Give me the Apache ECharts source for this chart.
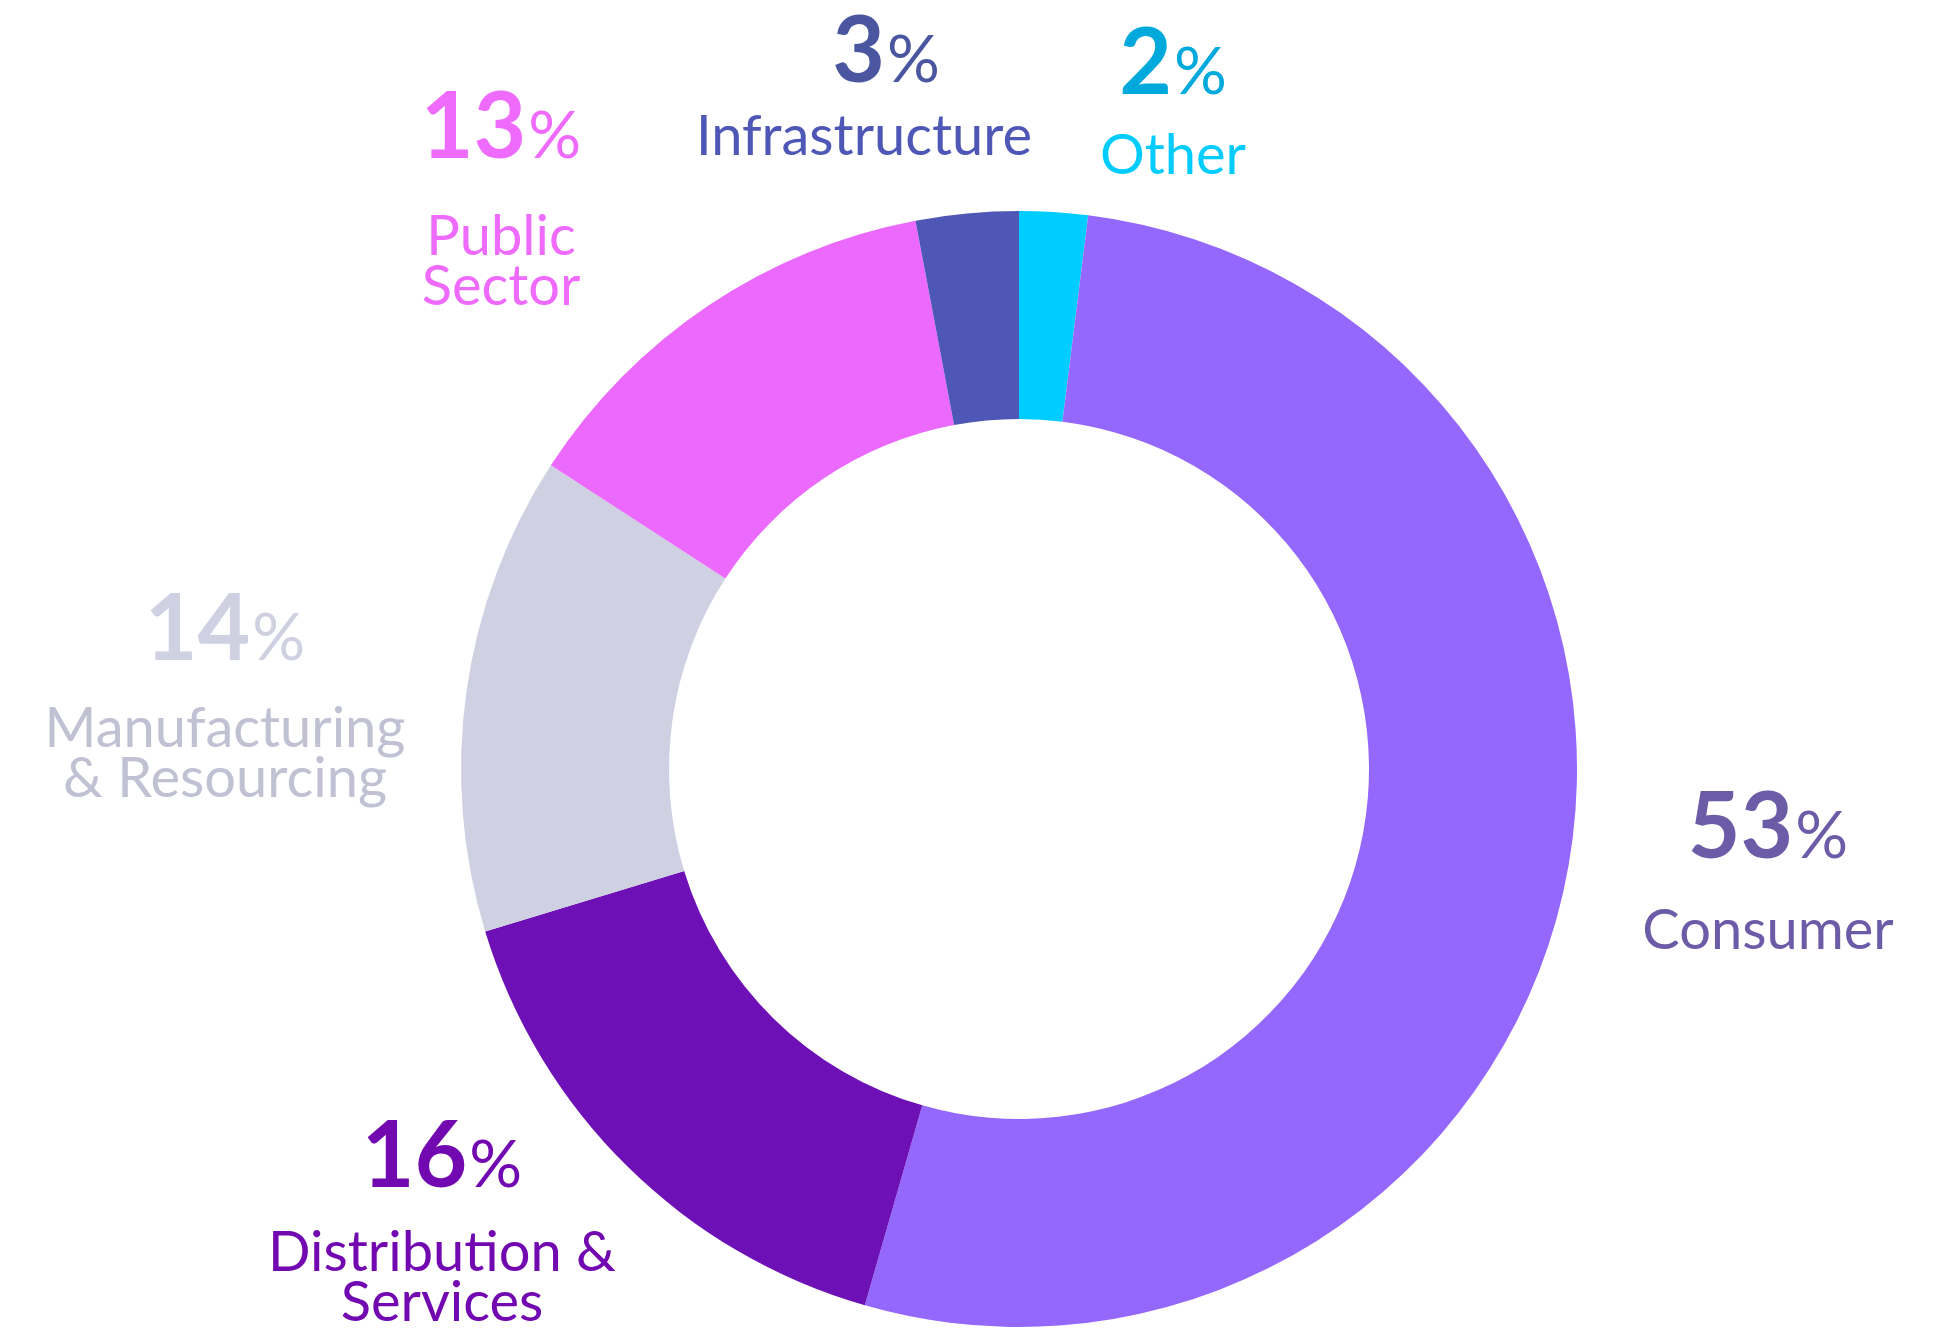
<!DOCTYPE html>
<html lang="en">
<head>
    <meta charset="UTF-8">
    <title>Sector split</title>
    <script src="https://cdn.jsdelivr.net/npm/echarts@6/dist/echarts.min.js"></script>
    <style>
        * { margin: 0; padding: 0; }
        html, body { width: 100%; height: 100%; background: #fff; }
    </style>
</head>
<body>
    <div id="main" style="width: 1951px;height:1329px;"></div>
<script>
    // data, clockwise from 12 o'clock
    var sectors = ['Other', 'Consumer', 'Distribution &\nServices', 'Manufacturing\n& Resourcing', 'Public\nSector', 'Infrastructure'];
    var shares = [2, 53, 16, 14, 13, 3];

    // look
    var sliceColors = ['#00ccff', '#9468fc', '#6d10b6', '#cfd0e2', '#ec69fd', '#4f57b6'];
    var numColors = ['#00a9dc', '#6c5ba6', '#7209b0', '#cfd0e2', '#ee6bfd', '#4a56a0'];
    var nameColors = ['#00ccff', '#6c5ba6', '#7209b0', '#c0c1d2', '#ee6bfd', '#4f57b6'];

    // label placement (px)
    var labelX = [1173, 1768, 442, 225, 501, 864];
    var numMidY = [65, 829, 1158, 631, 129, 53];
    var numLineH = [132, 154, 140, 146, 165, 118];
    var numShift = [0, 0, 0, 0, 0, 44]; // pushes the % figure right of the name's centre

    var font = 'Lato';

    var pieData = sectors.map(function (name, i) {
        return {
            name: name,
            value: shares[i],
            itemStyle: { color: sliceColors[i] },
            label: {
                rich: {
                    n: { color: numColors[i], lineHeight: numLineH[i], padding: [0, 0, 0, numShift[i]] },
                    p: { color: numColors[i], lineHeight: numLineH[i] },
                    t: { color: nameColors[i] }
                }
            }
        };
    });

    var myChart = echarts.init(document.getElementById('main'));
    myChart.setOption({
        animation: false,
        series: [
            {
                type: 'pie',
                center: [1019, 769],
                radius: [350, 558],
                startAngle: 90,
                clockwise: true,
                avoidLabelOverlap: false,
                silent: true,
                labelLine: { show: false },
                label: {
                    show: true,
                    position: 'outside',
                    fontFamily: font,
                    formatter: function (p) {
                        return '{n|' + p.value + '}{p|%}\n{t|' + p.name + '}';
                    },
                    rich: {
                        n: { fontFamily: font, fontWeight: 'bold', fontSize: 91 },
                        p: { fontFamily: font, fontSize: 66, padding: [16, 0, 0, 2] },
                        t: { fontFamily: font, fontSize: 56, lineHeight: 50, align: 'center' }
                    }
                },
                labelLayout: function (params) {
                    var i = params.dataIndex;
                    return {
                        x: labelX[i],
                        y: numMidY[i] - numLineH[i] / 2,
                        align: 'center',
                        verticalAlign: 'top'
                    };
                },
                data: pieData
            }
        ]
    });
</script>
</body>
</html>
